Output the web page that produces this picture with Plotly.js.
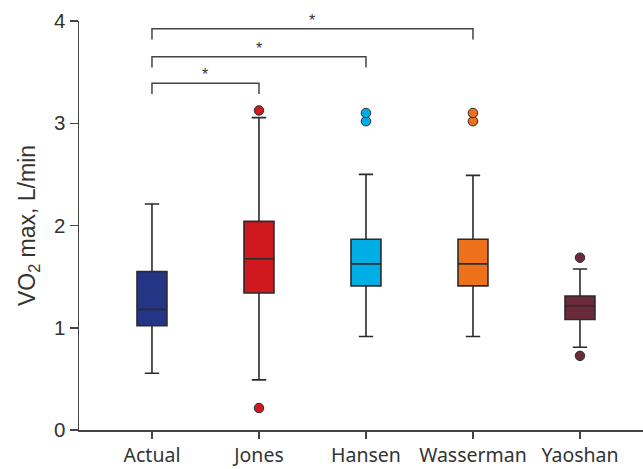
<!DOCTYPE html>
<html>
<head>
<meta charset="utf-8">
<script src="https://cdn.plot.ly/plotly-3.0.1.min.js"></script>
<style>html,body{margin:0;padding:0;background:#fff;}#chart{width:643px;height:469px;}</style>
</head>
<body>
<div id="chart"></div>
<script>
const categories = ["Actual", "Jones", "Hansen", "Wasserman", "Yaoshan"];
const colors = ["#253586", "#d0191f", "#00aee6", "#ed711b", "#6b2a3a"];
const q1 = [1.02, 1.34, 1.41, 1.41, 1.08];
const medians = [1.18, 1.675, 1.625, 1.625, 1.215];
const q3 = [1.55, 2.04, 1.865, 1.865, 1.31];
const lowerFence = [0.555, 0.49, 0.915, 0.915, 0.81];
const upperFence = [2.21, 3.055, 2.50, 2.49, 1.575];
const outliers = [[], [0.215, 3.125], [3.02, 3.10], [3.02, 3.10], [0.725, 1.685]];
// significance brackets: [from index, to index, bracket level]
const brackets = [[0, 1, 3.39], [0, 2, 3.65], [0, 3, 3.925]];
const bracketDrop = 0.105;

const traces = [];
categories.forEach((c, i) => {
  traces.push({
    type: "box",
    x: [c],
    q1: [q1[i]], median: [medians[i]], q3: [q3[i]],
    lowerfence: [lowerFence[i]], upperfence: [upperFence[i]],
    fillcolor: colors[i],
    line: {color: "#2b2b2b", width: 1.6},
    width: 0.28,
    whiskerwidth: 0.48,
    boxpoints: false,
    hoverinfo: "skip",
    showlegend: false
  });
  if (outliers[i].length) {
    traces.push({
      type: "scatter", mode: "markers",
      x: outliers[i].map(() => c), y: outliers[i],
      marker: {color: colors[i], size: 9.5, line: {color: "#2b2b2b", width: 1}},
      showlegend: false, hoverinfo: "skip", cliponaxis: false
    });
  }
});

const shapes = [];
const annotations = [];
brackets.forEach(([a, b, lvl]) => {
  shapes.push({type: "path", xref: "x", yref: "y",
    path: `M ${a} ${lvl - bracketDrop} L ${a} ${lvl} L ${b} ${lvl} L ${b} ${lvl - bracketDrop}`,
    line: {color: "#444", width: 1.5}});
  annotations.push({x: (a + b) / 2, y: lvl, xref: "x", yref: "y", text: "*",
    showarrow: false, yanchor: "bottom", yshift: -2,
    font: {family: "Liberation Sans, Arial", size: 16, color: "#333"}});
});

const layout = {
  width: 643, height: 469,
  margin: {l: 79, r: 0, t: 21, b: 39},
  paper_bgcolor: "#fff", plot_bgcolor: "#fff",
  boxmode: "overlay",
  showlegend: false,
  xaxis: {
    type: "category",
    categoryorder: "array", categoryarray: categories,
    range: [-0.682, 4.589],
    showline: true, linecolor: "#444", linewidth: 1.5,
    ticks: "outside", ticklen: 7, tickcolor: "#444", tickwidth: 1.5,
    showgrid: false, zeroline: false,
    tickfont: {family: "Noto Sans", size: 19.5, color: "#333"}
  },
  yaxis: {
    range: [0, 4],
    tickvals: [0, 1, 2, 3, 4],
    showline: true, linecolor: "#444", linewidth: 1.5,
    ticks: "outside", ticklen: 8, tickcolor: "#444", tickwidth: 1.5,
    showgrid: false, zeroline: false,
    tickfont: {family: "Liberation Sans, Arial", size: 20.5, color: "#333"},
    title: {text: "VO<sub>2</sub> max, L/min", standoff: 12,
      font: {family: "Liberation Sans, Arial", size: 23, color: "#333"}}
  },
  shapes: shapes,
  annotations: annotations
};

Plotly.newPlot("chart", traces, layout, {displayModeBar: false, staticPlot: true});
</script>
</body>
</html>
